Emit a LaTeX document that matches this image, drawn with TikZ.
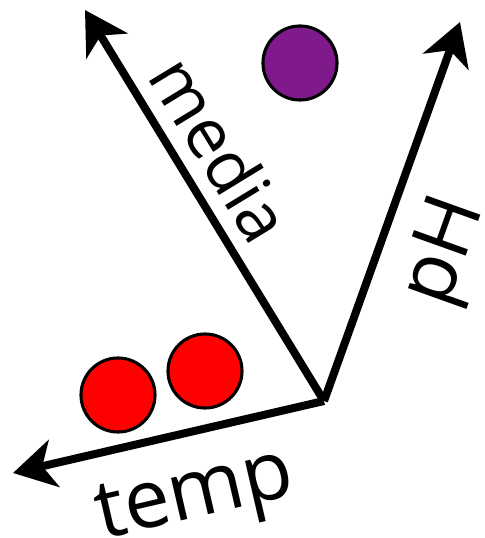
\documentclass[tikz,border=0pt]{standalone}
\usepackage{fontspec}
\setmainfont{Open Sans}
\usepackage{tikz}
\usetikzlibrary{arrows.meta}

\definecolor{dotpurple}{RGB}{128,25,140}
\definecolor{dotred}{RGB}{255,0,0}

\tikzset{
  axis/.style={line width=0.2cm, line join=miter, -{Stealth[length=1.05cm, width=1.2cm, inset=0.3cm]}},
  dot/.style={circle, draw, line width=2.2pt, minimum size=1.85cm, inner sep=0pt},
  axlabel/.style={inner sep=0pt}
}

\begin{document}
\begin{tikzpicture}[x=0.025cm, y=0.025cm]
  \useasboundingbox (0,0) rectangle (485,538);

  % origine et bouts des axes
  \coordinate (o) at (324,137);
  \coordinate (mediatip) at (85,528);
  \coordinate (phtip) at (460,516);
  \coordinate (temptip) at (13,65);

  % axes
  \draw[axis] (o) -- (mediatip);
  \draw[axis] (o) -- (phtip);
  \draw[axis] (o) -- (temptip);

  % noms des axes
  \node[axlabel, font=\fontsize{49}{58}\selectfont, rotate=-58.6] (media) at (221,389) {media};
  \node[axlabel, font=\fontsize{57}{68}\selectfont, rotate=70.3] (ph) at (447,286) {pH};
  \node[axlabel, font=\fontsize{58}{68}\selectfont, rotate=13] (temp) at (196,38) {temp};

  % points
  \node[dot, fill=dotpurple] (p1) at (300,475) {};
  \node[dot, fill=dotred] (r1) at (118,143) {};
  \node[dot, fill=dotred] (r2) at (205,167) {};
\end{tikzpicture}
\end{document}
